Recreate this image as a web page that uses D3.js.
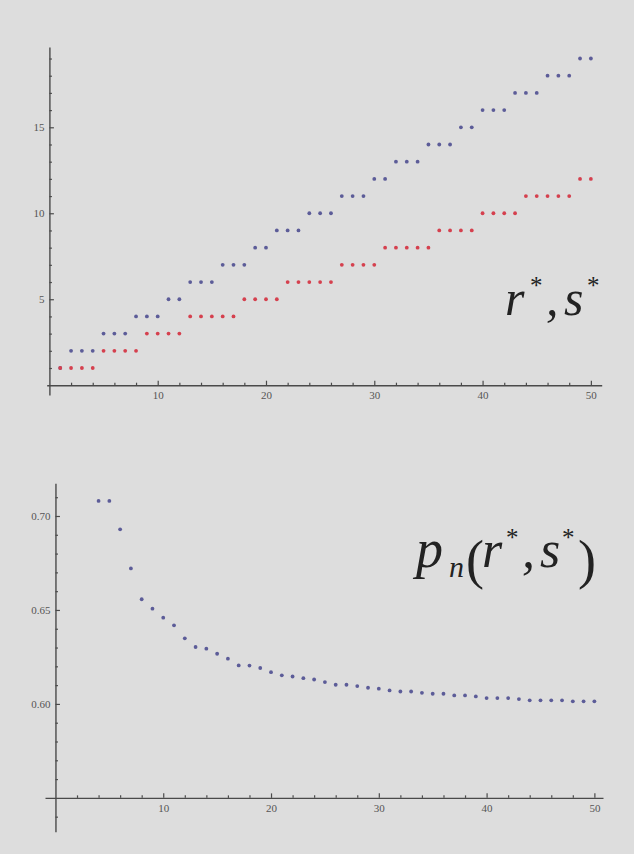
<!DOCTYPE html>
<html>
<head>
<meta charset="utf-8">
<script src="https://cdn.jsdelivr.net/npm/d3@7"></script>
<style>
  html, body { margin: 0; padding: 0; background: #dddddd; }
  svg { display: block; }
  .tick text { font-family: "Liberation Serif", "DejaVu Serif", serif; font-size: 11px; fill: #555; }
  .lbl { font-family: "Liberation Serif", "Times New Roman", serif; font-style: italic; fill: #222; }
</style>
</head>
<body>
<script>
// ---------- data ----------
const nTop = [1,2,3,4,5,6,7,8,9,10,11,12,13,14,15,16,17,18,19,20,21,22,23,24,25,26,27,28,29,30,31,32,33,34,35,36,37,38,39,40,41,42,43,44,45,46,47,48,49,50];
const sStar = [1,2,2,2,3,3,3,4,4,4,5,5,6,6,6,7,7,7,8,8,9,9,9,10,10,10,11,11,11,12,12,13,13,13,14,14,14,15,15,16,16,16,17,17,17,18,18,18,19,19];
const rStar = [1,1,1,1,2,2,2,2,3,3,3,3,4,4,4,4,4,5,5,5,5,6,6,6,6,6,7,7,7,7,8,8,8,8,8,9,9,9,9,10,10,10,10,11,11,11,11,11,12,12];

const nBot = [4,5,6,7,8,9,10,11,12,13,14,15,16,17,18,19,20,21,22,23,24,25,26,27,28,29,30,31,32,33,34,35,36,37,38,39,40,41,42,43,44,45,46,47,48,49,50];
const pn = [0.708,0.708,0.6929,0.6721,0.6557,0.6507,0.6459,0.6418,0.6349,0.6303,0.6294,0.6267,0.6241,
            0.6205,0.6204,0.6191,0.6169,0.6152,0.6146,0.6137,0.6130,0.6116,
            0.6102,0.6102,0.6095,0.6086,0.6081,0.6072,0.6066,0.6066,0.6059,0.6054,0.6054,0.6045,0.6045,0.6040,
            0.6031,0.6031,0.6031,0.6026,0.6019,0.6019,0.6019,0.6019,0.6014,0.6014,0.6014];

const topXMajor = [10,20,30,40,50];
const topXMinor = [2,4,6,8,12,14,16,18,22,24,26,28,32,34,36,38,42,44,46,48];
const topYMajor = [5,10,15];
const topYMinor = [1,2,3,4,6,7,8,9,11,12,13,14,16,17,18,19];
const botXMajor = [10,20,30,40,50];
const botXMinor = [2,4,6,8,12,14,16,18,22,24,26,28,32,34,36,38,42,44,46,48];
const botYMajor = [0.60,0.65,0.70];
const botYMinor = [0.54,0.56,0.57,0.58,0.59,0.61,0.62,0.63,0.64,0.66,0.67,0.68,0.69,0.71];

const blue = "#5c5c98", red = "#d5404e", axisCol = "#4a4a4a";

const W = 634, H = 854;
const svg = d3.select("body").append("svg").attr("width", W).attr("height", H);
svg.append("rect").attr("width", W).attr("height", H).attr("fill", "#dddddd");

function drawAxes(g, x, y, xAxisVal, xMaj, xMin, yMaj, yMin, yFmt) {
  const y0 = y(xAxisVal);
  const x0 = x(0);
  const gx = g.append("g").attr("transform", `translate(0,${y0})`);
  gx.call(d3.axisBottom(x).tickValues(xMaj).tickSizeInner(-4.5).tickSizeOuter(0).tickPadding(6).tickFormat(d3.format("d")));
  gx.append("g").call(d3.axisBottom(x).tickValues(xMin).tickSizeInner(-2.5).tickSizeOuter(0).tickFormat(""))
    .select(".domain").remove();
  const gy = g.append("g").attr("transform", `translate(${x0},0)`);
  gy.call(d3.axisLeft(y).tickValues(yMaj).tickSizeInner(-4.5).tickSizeOuter(0).tickPadding(5).tickFormat(yFmt));
  gy.append("g").call(d3.axisLeft(y).tickValues(yMin).tickSizeInner(-2.5).tickSizeOuter(0).tickFormat(""))
    .select(".domain").remove();
  g.selectAll(".domain").attr("stroke", axisCol).attr("stroke-width", 1.4);
  g.selectAll(".tick line").attr("stroke", axisCol).attr("stroke-width", 1.2);
}

// ---------- top chart ----------
const gTop = svg.append("g");
const xT = d3.scaleLinear().domain([-0.25, 51]).range([46.7, 601.7]);
const yT = d3.scaleLinear().domain([-0.57, 19.67]).range([395, 47]);
drawAxes(gTop, xT, yT, 0, topXMajor, topXMinor, topYMajor, topYMinor, d3.format("d"));

gTop.append("g").selectAll("circle").data(nTop).join("circle")
  .attr("cx", (d) => xT(d)).attr("cy", (d, i) => yT(sStar[i])).attr("r", 1.9).attr("fill", blue);
gTop.append("g").selectAll("circle").data(nTop).join("circle")
  .attr("cx", (d) => xT(d)).attr("cy", (d, i) => yT(rStar[i])).attr("r", 1.9).attr("fill", red);

// label r*, s*
const t1 = svg.append("g").attr("class", "lbl");
t1.append("text").attr("x", 505).attr("y", 315).attr("font-size", 50).text("r");
t1.append("text").attr("x", 530).attr("y", 294).attr("font-size", 25).attr("font-style", "normal").text("*");
t1.append("text").attr("x", 546).attr("y", 315).attr("font-size", 50).text(",");
t1.append("text").attr("x", 564).attr("y", 315).attr("font-size", 50).text("s");
t1.append("text").attr("x", 587).attr("y", 294).attr("font-size", 25).attr("font-style", "normal").text("*");

// ---------- bottom chart ----------
const gBot = svg.append("g");
const xB = d3.scaleLinear().domain([-0.97, 50.8]).range([45, 603]);
const yB = d3.scaleLinear().domain([0.532, 0.7174]).range([831.7, 483.3]);
drawAxes(gBot, xB, yB, 0.55, botXMajor, botXMinor, botYMajor, botYMinor, d3.format(".2f"));

gBot.append("g").selectAll("circle").data(nBot).join("circle")
  .attr("cx", (d) => xB(d)).attr("cy", (d, i) => yB(pn[i])).attr("r", 1.9).attr("fill", blue);

// label p_n(r*, s*)
const t2 = svg.append("g").attr("class", "lbl");
t2.append("text").attr("x", 416).attr("y", 567).attr("font-size", 54).text("p");
t2.append("text").attr("x", 449).attr("y", 577).attr("font-size", 30).text("n");
t2.append("text").attr("x", 466).attr("y", 578).attr("font-size", 54).attr("font-style", "normal").text("(");
t2.append("text").attr("x", 482).attr("y", 567).attr("font-size", 52).text("r");
t2.append("text").attr("x", 506).attr("y", 546).attr("font-size", 25).attr("font-style", "normal").text("*");
t2.append("text").attr("x", 522).attr("y", 567).attr("font-size", 52).text(",");
t2.append("text").attr("x", 540).attr("y", 567).attr("font-size", 52).text("s");
t2.append("text").attr("x", 562).attr("y", 546).attr("font-size", 25).attr("font-style", "normal").text("*");
t2.append("text").attr("x", 578).attr("y", 578).attr("font-size", 54).attr("font-style", "normal").text(")");
</script>
</body>
</html>
